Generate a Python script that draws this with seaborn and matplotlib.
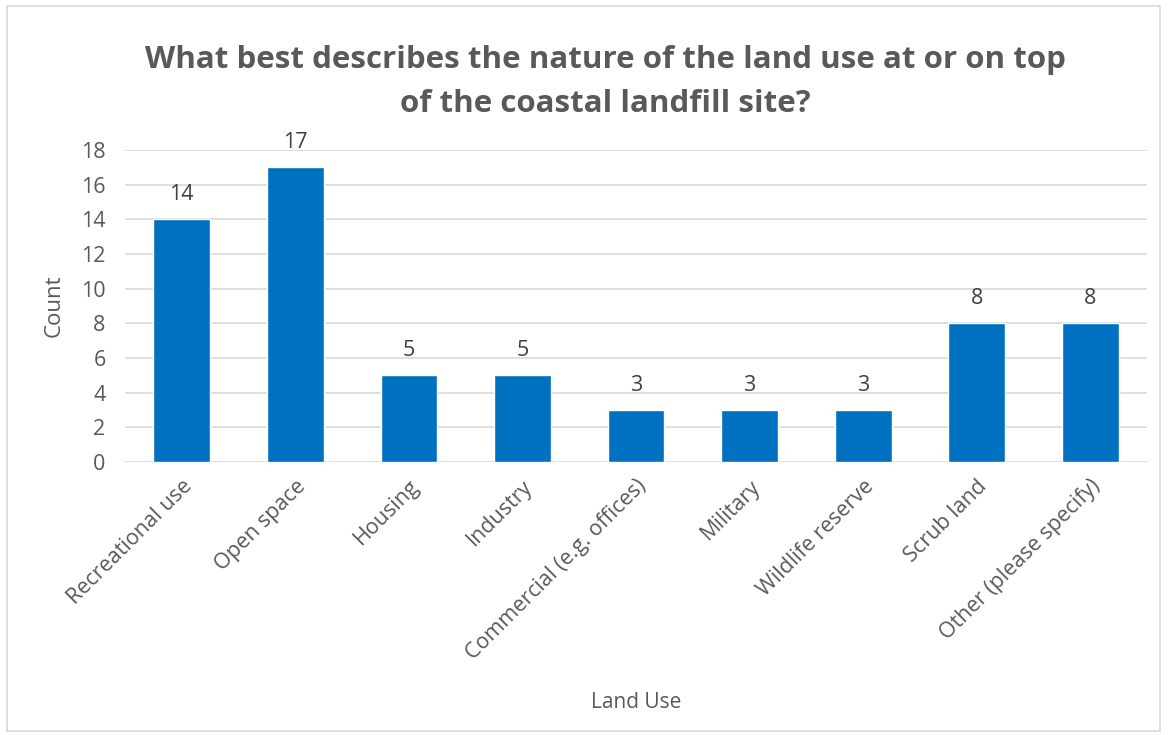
import matplotlib
matplotlib.use("Agg")
import matplotlib.pyplot as plt
import seaborn as sns
import pandas as pd
from matplotlib.patches import Rectangle

categories = ["Recreational use", "Open space", "Housing", "Industry",
              "Commercial (e.g. offices)", "Military", "Wildlife reserve",
              "Scrub land", "Other (please specify)"]
counts = [14, 17, 5, 5, 3, 3, 3, 8, 8]
y_ticks = [0, 2, 4, 6, 8, 10, 12, 14, 16, 18]

df = pd.DataFrame({"Land Use": categories, "Count": counts})

sns.set_theme(style="white")
plt.rcParams["font.family"] = ["Open Sans", "DejaVu Sans"]

TXT = "#595959"
BAR = "#0070C0"
GRID = "#D9D9D9"

fig = plt.figure(figsize=(11.68, 7.35), dpi=100)
fig.patch.set_facecolor("white")
fig.add_artist(Rectangle((7/1168, 1 - 731/735), (1160-7)/1168, (731-6)/735,
                         transform=fig.transFigure, fill=False,
                         edgecolor="#D9D9D9", linewidth=1.2))

ax = fig.add_axes([125/1168, 1 - 462/735, (1147-125)/1168, (462-150)/735])
sns.barplot(data=df, x="Land Use", y="Count", color=BAR, width=0.5,
            saturation=1, ax=ax, zorder=3)
ax.set_ylim(0, 18)
ax.set_xlim(-0.5, len(categories) - 0.5)
ax.set_yticks(y_ticks)
ax.yaxis.grid(True, color=GRID, linewidth=1.2, zorder=0)
ax.set_axisbelow(True)
for s in ax.spines.values():
    s.set_visible(False)
ax.tick_params(axis="both", length=0, colors=TXT, labelsize=15.5)
ax.tick_params(axis="y", pad=14)
ax.set_xticks(range(len(categories)))
ax.set_xticklabels(categories, rotation=45, ha="right", va="top",
                   rotation_mode="anchor", fontsize=15.5, color=TXT)
ax.tick_params(axis="x", pad=10)

for c in ax.containers:
    ax.bar_label(c, fmt="%d", padding=10, fontsize=15.5, color="#404040")

ax.set_xlabel("Land Use", fontsize=15, color=TXT)
ax.set_ylabel("Count", fontsize=16, color=TXT)
ax.xaxis.set_label_coords(0.5, -(692 - 462) / 312)
ax.yaxis.set_label_coords(-(125 - 65) / 1022, 0.5)

fig.text(605/1168, 1 - 82/735,
         "What best describes the nature of the land use at or on top\nof the coastal landfill site?",
         ha="center", va="center", fontsize=22.5, fontweight="bold", color=TXT,
         linespacing=1.6)

fig.savefig("out.png", dpi=100)
